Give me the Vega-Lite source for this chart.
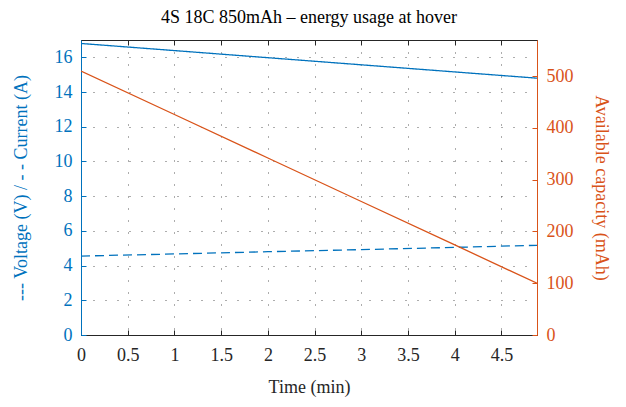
{
  "$schema": "https://vega.github.io/schema/vega-lite/v6.json",
  "autosize": "none",
  "width": 456,
  "height": 295,
  "padding": {"left": 81, "top": 40, "right": 89, "bottom": 72},
  "background": "white",
  "title": {"text": "4S 18C 850mAh – energy usage at hover", "font": "Liberation Serif", "fontSize": 18, "fontWeight": "normal", "color": "#000000", "offset": 13},
  "config": {
    "view": {"stroke": "#262626", "strokeWidth": 1},
    "axis": {
      "labelFont": "Liberation Serif",
      "titleFont": "Liberation Serif",
      "labelFontSize": 18,
      "titleFontSize": 18,
      "titleFontWeight": "normal",
      "labelOverlap": false,
      "labelFlush": false,
      "tickSize": -5,
      "gridDash": [1, 11],
      "gridColor": "#333333",
      "gridOpacity": 0.8,
      "gridWidth": 1
    }
  },
  "data": {"values": [
    {"time": 0, "voltage": 16.8, "current": 4.55, "capacity": 510},
    {"time": 1, "voltage": 16.39, "current": 4.67, "capacity": 426},
    {"time": 2, "voltage": 15.98, "current": 4.8, "capacity": 342},
    {"time": 3, "voltage": 15.57, "current": 4.92, "capacity": 258},
    {"time": 4, "voltage": 15.16, "current": 5.05, "capacity": 174},
    {"time": 4.88, "voltage": 14.8, "current": 5.17, "capacity": 100}
  ]},
  "layer": [
    {
      "transform": [{"fold": ["voltage", "current"], "as": ["series", "value"]}],
      "mark": {"type": "line", "color": "#0072BD", "strokeWidth": 1.3, "clip": true},
      "encoding": {
        "x": {"field": "time", "type": "quantitative", "scale": {"domain": [0, 4.88], "nice": false, "zero": false},
          "axis": {"title": "Time (min)", "titleFontWeight": "normal", "values": [0, 0.5, 1, 1.5, 2, 2.5, 3, 3.5, 4, 4.5], "labelExpr": "datum.value", "domainColor": "#262626", "tickColor": "#262626", "labelColor": "#262626", "titleColor": "#262626", "labelPadding": 16, "titlePadding": 14, "grid": true}},
        "y": {"field": "value", "type": "quantitative", "scale": {"domain": [0, 17], "nice": false},
          "axis": {"orient": "left", "title": "--- Voltage (V) / - - Current (A)", "titleFontWeight": "normal", "values": [0, 2, 4, 6, 8, 10, 12, 14, 16], "domainColor": "#0072BD", "tickColor": "#0072BD", "labelColor": "#0072BD", "titleColor": "#0072BD", "labelPadding": 14, "titlePadding": 24, "grid": true}},
        "strokeDash": {"field": "series", "type": "nominal", "scale": {"domain": ["voltage", "current"], "range": [[1, 0], [9, 5]]}, "legend": null}
      }
    },
    {
      "mark": {"type": "line", "color": "#D95319", "strokeWidth": 1.3, "clip": true},
      "encoding": {
        "x": {"field": "time", "type": "quantitative",
          "axis": {"orient": "top", "title": null, "labels": false, "values": [0, 0.5, 1, 1.5, 2, 2.5, 3, 3.5, 4, 4.5], "domainColor": "#262626", "tickColor": "#262626", "grid": false}},
        "y": {"field": "capacity", "type": "quantitative", "scale": {"domain": [0, 570], "nice": false},
          "axis": {"orient": "right", "title": "Available capacity (mAh)", "titleFontWeight": "normal", "values": [0, 100, 200, 300, 400, 500], "domainColor": "#D95319", "tickColor": "#D95319", "labelColor": "#D95319", "titleColor": "#D95319", "labelPadding": 14, "titlePadding": 18, "grid": false}}
      }
    }
  ],
  "resolve": {"scale": {"y": "independent"}, "axis": {"x": "independent"}}
}
